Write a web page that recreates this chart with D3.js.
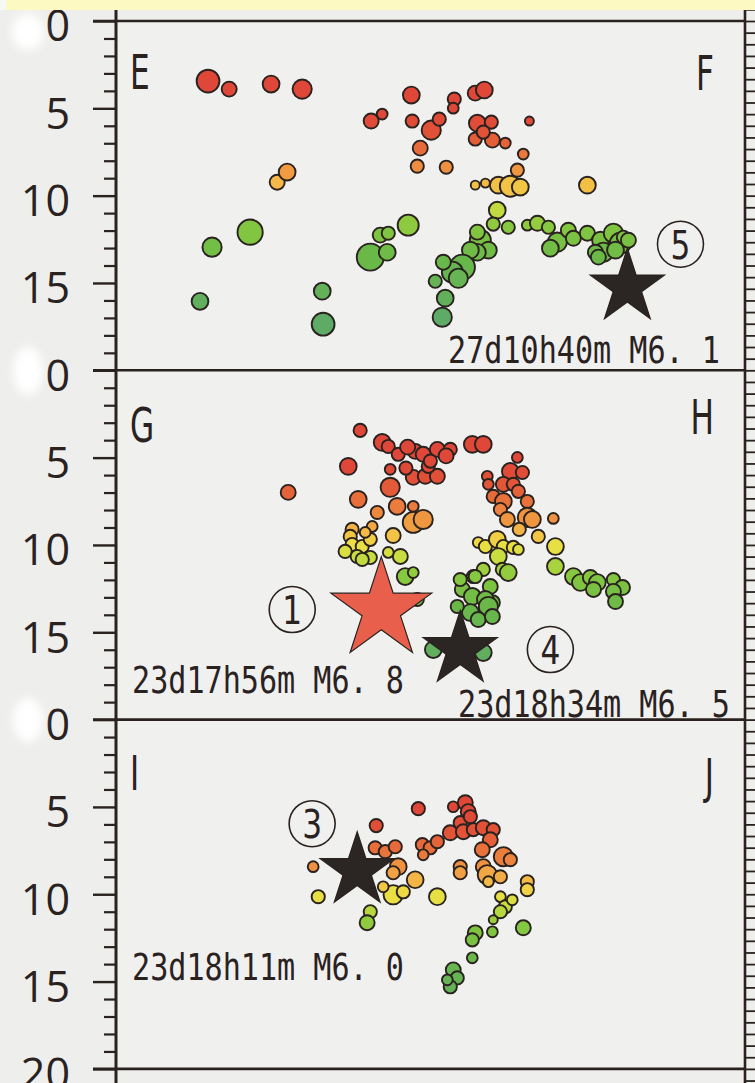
<!DOCTYPE html>
<html>
<head>
<meta charset="utf-8">
<script src="https://cdn.jsdelivr.net/npm/d3@7"></script>
<style>
  body { margin: 0; background: #eeeeec; }
  svg { display: block; }
</style>
</head>
<body>
<svg id="chart"></svg>
<script>
// Panel corner names, top to bottom
var panelNames = [["E", "F"], ["G", "H"], ["I", "J"]];
var depthTicks = [0, 5, 10, 15, 20];

// Aftershocks: [distance along section (km), depth (km), magnitude]
var quakesEF = [
  [5.27,3.44,3.3],[6.48,3.90,2.0],[8.88,3.61,2.3],[10.66,3.90,2.7],
  [9.23,9.23,2.0],[9.80,8.65,2.3],
  [7.68,12.09,3.7],[5.50,12.95,2.7],[4.81,16.05,2.3],[11.81,15.47,2.3],[11.86,17.36,3.3],
  [14.61,5.73,2.0],[15.24,5.33,1.3],[16.91,4.24,2.3],[16.96,5.73,1.7],[18.05,6.25,2.7],
  [18.51,5.62,1.7],[19.37,4.47,1.7],[19.31,4.99,1.3],[20.57,4.13,2.0],[21.09,3.95,2.3],
  [20.69,5.85,2.3],[21.49,5.79,1.7],[20.57,6.76,1.7],[21.55,6.82,2.0],[22.29,6.99,1.3],
  [21.03,6.36,1.7],[23.67,5.73,1.0],
  [17.42,7.28,2.0],[17.25,8.31,1.7],[18.91,8.37,1.7],[23.32,7.62,1.3],[22.98,8.54,1.7],
  [20.57,9.40,1.0],[21.15,9.28,1.0],[21.89,9.40,2.3],[22.58,9.46,3.0],[23.15,9.51,2.3],[26.99,9.40,2.3],
  [21.83,10.83,2.3],[21.60,11.63,1.7],[22.46,11.81,1.7],
  [16.73,11.69,3.0],[15.13,12.26,2.0],[15.59,12.15,1.7],[14.56,13.52,4.0],[15.53,13.24,2.3],
  [20.86,12.55,3.0],[20.69,12.09,2.0],[21.32,13.12,2.3],[20.69,13.24,2.3],[20.29,13.12,2.3],
  [19.83,14.10,3.7],[19.26,14.38,3.0],[19.60,14.73,2.7],[18.74,13.81,2.0],[18.28,14.90,1.7],
  [18.85,15.87,2.3],[18.68,16.96,2.7],
  [23.55,11.69,1.3],[24.13,11.58,2.0],[24.76,11.81,1.7],[25.27,12.66,2.7],[24.87,13.01,2.3],
  [25.90,11.98,2.0],[26.19,12.44,2.0],[26.99,12.15,2.0],[27.74,12.55,2.3],[28.48,12.15,2.7],
  [28.88,12.72,3.0],[27.91,13.24,2.7],[27.45,13.24,2.0],[29.05,12.38,1.7],[27.62,13.52,2.0],
  [28.60,13.12,2.3],[29.34,12.55,2.0]
];

var quakesGH = [
  [13.98,3.44,1.7],[13.30,5.50,2.3],[9.86,6.99,2.0],[13.87,7.39,2.3],
  [15.24,4.13,2.3],[15.59,4.36,1.7],[16.16,4.81,1.7],[15.70,5.67,1.3],[17.13,4.64,2.0],
  [17.59,4.81,2.0],[18.40,4.53,2.0],[19.14,4.53,1.7],[17.02,6.13,2.0],[17.71,6.07,2.0],
  [18.40,6.07,2.0],[17.88,5.50,1.7],[20.40,4.24,2.3],[21.03,4.24,2.3],
  [16.70,4.40,2.0],[18.90,4.90,2.0],[18.00,5.20,1.7],[16.60,5.60,1.7],
  [15.70,6.70,2.7],[16.10,7.79,2.3],[17.02,7.79,1.3],[14.96,8.14,1.7],[17.02,8.71,3.0],
  [17.59,8.54,2.7],[14.67,8.94,1.3],[15.87,9.46,2.0],
  [13.52,9.11,1.7],[13.41,9.51,1.7],[13.52,9.97,1.7],[14.10,10.09,1.7],[14.56,9.68,1.7],
  [14.27,9.28,1.3],[13.12,10.37,1.7],[13.81,10.66,1.7],[14.56,10.72,1.7],[14.10,10.83,1.7],
  [16.28,10.66,2.0],[15.59,10.43,1.3],[16.56,11.81,2.3],[17.02,11.58,1.3],[17.25,13.12,1.7],
  [22.98,4.99,1.3],[22.58,5.79,2.3],[23.27,5.85,1.7],[21.26,6.07,1.3],[21.32,6.53,1.3],
  [22.18,6.53,2.0],[22.75,6.53,1.7],[23.04,6.93,1.7],[21.60,7.22,1.7],[22.18,7.51,2.3],
  [23.55,7.51,1.7],[22.01,7.97,1.7],[22.41,8.54,2.0],[23.55,8.42,2.7],[23.84,8.54,2.3],
  [23.09,9.11,1.7],[25.04,8.48,1.3],[24.18,9.51,1.7],[25.16,10.09,2.3],
  [20.74,9.86,1.3],[21.15,10.09,1.7],[21.83,9.68,2.3],[22.18,10.09,1.7],[22.75,10.14,1.7],
  [23.04,10.26,1.3],[21.89,10.66,2.3],
  [21.03,11.40,1.7],[22.12,11.40,1.7],[22.46,11.58,2.3],[21.43,12.38,2.0],[20.46,11.81,1.7],
  [20.46,12.95,2.0],[21.55,13.30,2.0],
  [25.16,11.23,2.3],[26.19,11.81,2.3],[26.59,12.15,2.3],[27.16,11.86,2.0],[27.56,12.15,2.3],
  [27.34,12.55,2.0],[28.48,11.98,1.7],[29.00,12.44,2.0],[28.48,12.66,2.0],[28.60,13.24,2.0],
  [18.17,15.99,2.3],[21.03,16.16,2.3],[19.83,12.55,2.0],[20.40,12.95,2.3],[21.15,13.12,2.3],
  [21.32,13.52,2.7],[20.29,13.87,2.3],[20.74,14.27,2.0],[21.55,14.10,2.0],[19.54,13.52,1.7],
  [19.71,11.98,1.7],[20.57,11.81,1.7]
];

var quakesIJ = [
  [11.29,8.42,1.3],[11.58,10.14,1.7],[14.90,6.07,1.7],[17.31,5.10,1.7],
  [14.84,7.34,1.7],[15.42,7.56,1.7],[15.99,7.28,1.7],[16.16,8.42,2.3],[15.87,8.77,1.7],
  [17.13,9.17,2.3],[15.87,10.03,2.7],[16.45,9.86,1.7],[15.30,9.57,1.3],[18.40,10.14,2.3],
  [14.56,11.00,1.7],[14.38,11.63,2.0],
  [17.54,7.16,1.7],[17.99,7.34,1.7],[18.40,6.99,1.7],[17.59,7.74,1.3],[19.14,6.48,2.0],
  [19.31,4.99,1.3],[20.00,4.76,2.0],[20.17,5.27,2.0],[19.71,5.90,1.7],[20.29,5.56,1.7],
  [19.89,6.42,2.0],[20.46,6.30,1.7],[21.03,6.19,2.0],[21.60,6.30,1.7],[21.43,6.88,2.0],
  [20.97,7.45,2.0],[22.18,7.85,2.7],[22.58,8.02,1.7],
  [19.71,8.42,1.7],[19.71,8.77,1.7],[21.03,8.42,2.0],[21.26,8.88,2.7],[22.01,9.00,1.7],
  [21.32,9.28,1.3],[23.55,9.28,1.7],[23.55,9.74,1.7],
  [22.01,10.14,1.3],[22.29,10.72,1.7],[22.01,11.00,1.7],[22.69,10.32,1.3],
  [21.60,11.46,1.0],[21.55,12.15,1.3],[20.57,12.21,2.0],[20.40,12.61,1.7],[23.32,11.92,2.0],
  [20.40,13.64,1.3],[19.31,14.33,2.0],[19.54,14.79,1.7],[19.14,15.30,1.7],[18.97,14.90,1.3]
];

// Large events: [distance, depth, magnitude, number, label distance, label depth, main shock]
var shocksEF = [[29.28, 15.24, 6.1, "5", 32.32, 12.78, false]];
var shocksGH = [[15.19, 13.70, 6.8, "1", 10.09, 13.70, true],
                [19.71, 15.99, 6.5, "4", 24.87, 15.99, false]];
var shocksIJ = [[13.81, 8.65, 6.0, "3", 11.23, 5.96, false]];

// Event captions for each panel
var notesEF = ["27d10h40m M6. 1"];
var notesGH = ["23d17h56m M6. 8", "23d18h34m M6. 5"];
var notesIJ = ["23d18h11m M6. 0"];

var width = 755, height = 1083;
var left = 116, right = 745, top0 = 21, panelH = 349.3;
var ink = "#29221f";

var svg = d3.select("#chart")
    .attr("width", width)
    .attr("height", height);

var defs = svg.append("defs");
defs.append("filter").attr("id", "blob")
    .attr("x", "-50%").attr("y", "-50%").attr("width", "200%").attr("height", "200%")
  .append("feGaussianBlur").attr("stdDeviation", 4);

svg.append("rect")
    .attr("width", width).attr("height", height)
    .attr("fill", "#eeeeec");

var x = d3.scaleLinear()
    .domain([0, 36])
    .range([left, left + 36 * panelH / 20]);

var color = d3.scaleLinear()
    .domain([5.5, 6.5, 7.5, 8.5, 9.3, 10.0, 10.8, 11.8, 13.5, 17])
    .range(["#df4838", "#e25437", "#e9723b", "#ef9441", "#f4bb46",
            "#ece044", "#c2db3f", "#86c83f", "#6ab948", "#5eab66"])
    .clamp(true);

var radius = d3.scaleLinear().domain([1, 4]).range([4.5, 13.5]);

var starRadius = function(main) { return main ? 53 : 39; };

var panels = [
  { names: panelNames[0], quakes: quakesEF, shocks: shocksEF, notes: notesEF,
    noteLayout: [{ x: 720, y: 342, anchor: "end" }],
    nameY: [68, 69] },
  { names: panelNames[1], quakes: quakesGH, shocks: shocksGH, notes: notesGH,
    noteLayout: [{ x: 132, y: 323, anchor: "start" }, { x: 730, y: 347, anchor: "end" }],
    nameY: [72, 64] },
  { names: panelNames[2], quakes: quakesIJ, shocks: shocksIJ, notes: notesIJ,
    noteLayout: [{ x: 132, y: 260, anchor: "start" }],
    nameY: [70, 73] }
];

panels.forEach(function(p, i) {
  var top = top0 + i * panelH;
  var y = d3.scaleLinear().domain([0, 20]).range([top, top + panelH]);
  var last = i === panels.length - 1;
  var g = svg.append("g");

  g.append("rect")
      .attr("x", left).attr("y", top)
      .attr("width", right - left).attr("height", panelH)
      .attr("fill", "#f0f0ef");

  // aftershock circles
  g.selectAll(".quake")
      .data(p.quakes)
    .enter().append("circle")
      .attr("class", "quake")
      .attr("cx", function(d) { return x(d[0]); })
      .attr("cy", function(d) { return y(d[1]); })
      .attr("r", function(d) { return radius(d[2]); })
      .attr("fill", function(d) { return color(d[1]); })
      .attr("stroke", ink)
      .attr("stroke-width", 1.9);

  // large events as stars
  g.selectAll(".shock")
      .data(p.shocks)
    .enter().append("path")
      .attr("class", "shock")
      .attr("transform", function(d) { return "translate(" + x(d[0]) + "," + y(d[1]) + ")"; })
      .attr("d", function(d) {
        var r = starRadius(d[6]);
        return d3.symbol(d3.symbolStar, r * r / 0.8908130915292852)();
      })
      .attr("fill", function(d) { return d[6] ? "#e8604c" : "#2b2523"; })
      .attr("stroke", ink)
      .attr("stroke-width", 1.2);

  // circled event numbers
  var lab = g.selectAll(".num")
      .data(p.shocks)
    .enter().append("g")
      .attr("class", "num")
      .attr("transform", function(d) { return "translate(" + x(d[4]) + "," + y(d[5]) + ")"; });
  lab.append("circle")
      .attr("r", 23)
      .attr("fill", "none")
      .attr("stroke", ink)
      .attr("stroke-width", 1.6);
  lab.append("text")
      .attr("transform", "scale(0.8,1)")
      .attr("text-anchor", "middle")
      .attr("dy", "0.37em")
      .style("font-family", "'DejaVu Sans', sans-serif")
      .style("font-size", "39px")
      .attr("fill", ink)
      .text(function(d) { return d[3]; });

  // corner letters
  g.append("text")
      .attr("transform", "translate(" + (left + 14) + "," + (top + p.nameY[0]) + ") scale(0.65,1)")
      .style("font-family", "'DejaVu Sans', sans-serif")
      .style("font-size", "48px")
      .attr("fill", ink)
      .text(p.names[0]);
  g.append("text")
      .attr("transform", "translate(" + (right - 31) + "," + (top + p.nameY[1]) + ") scale(0.65,1)")
      .attr("text-anchor", "end")
      .style("font-family", "'DejaVu Sans', sans-serif")
      .style("font-size", "48px")
      .attr("fill", ink)
      .text(p.names[1]);

  // captions
  g.selectAll(".note")
      .data(p.notes)
    .enter().append("text")
      .attr("class", "note")
      .attr("x", function(d, j) { return p.noteLayout[j].x; })
      .attr("y", function(d, j) { return top + p.noteLayout[j].y; })
      .attr("text-anchor", function(d, j) { return p.noteLayout[j].anchor; })
      .attr("textLength", 272)
      .attr("lengthAdjust", "spacingAndGlyphs")
      .style("font-family", "'DejaVu Sans Mono', monospace")
      .style("font-size", "38px")
      .attr("fill", ink)
      .text(function(d) { return d; });

  // depth axis; "20" is written only below the last panel
  var minor = d3.range(0, 21).filter(function(v) { return v % 5 !== 0; });
  var minorAxis = svg.append("g")
      .attr("transform", "translate(" + left + ",0)")
      .call(d3.axisLeft(y).tickValues(minor).tickSize(12).tickSizeOuter(0).tickFormat(""));
  minorAxis.select(".domain").remove();
  minorAxis.selectAll("line").attr("stroke", ink).attr("stroke-width", 2.2);

  var majorAxis = svg.append("g")
      .attr("transform", "translate(" + left + ",0)")
      .call(d3.axisLeft(y)
        .tickValues(last ? depthTicks : depthTicks.slice(0, 4))
        .tickSize(23).tickSizeOuter(0).tickPadding(23));
  majorAxis.select(".domain").remove();
  majorAxis.selectAll("line").attr("stroke", ink).attr("stroke-width", 2.4);
  majorAxis.selectAll("text")
      .attr("dy", "0.46em")
      .style("font-family", "'Open Sans', sans-serif")
      .style("font-size", "43px")
      .attr("fill", ink);

  // panel top border
  svg.append("line")
      .attr("x1", 93).attr("x2", right)
      .attr("y1", top).attr("y2", top)
      .attr("stroke", ink).attr("stroke-width", 2.6);
});

// bottom border
svg.append("line")
    .attr("x1", 93).attr("x2", right)
    .attr("y1", top0 + 3 * panelH).attr("y2", top0 + 3 * panelH)
    .attr("stroke", ink).attr("stroke-width", 2.6);

// left and right frame lines
svg.append("line")
    .attr("x1", left).attr("x2", left).attr("y1", 10).attr("y2", height)
    .attr("stroke", ink).attr("stroke-width", 3);
svg.append("line")
    .attr("x1", right).attr("x2", right).attr("y1", 10).attr("y2", height)
    .attr("stroke", ink).attr("stroke-width", 2.6);

// fine ticks on the right edge
var yRight = d3.scaleLinear().domain([0, 90]).range([top0, top0 + 3 * panelH]);
var rightAxis = svg.append("g")
    .attr("transform", "translate(" + (right + 1) + ",0)")
    .call(d3.axisRight(yRight).tickValues(d3.range(-1, 92)).tickSize(10).tickSizeOuter(0).tickFormat(""));
rightAxis.select(".domain").remove();
rightAxis.selectAll("line").attr("stroke", ink).attr("stroke-width", 1.8);

// scan blotches at the left edge
var blobs = [[28, 32, 16, 18], [28, 371, 15, 24], [28, 720, 15, 22]];
svg.selectAll(".blob")
    .data(blobs)
  .enter().append("ellipse")
    .attr("class", "blob")
    .attr("cx", function(d) { return d[0]; })
    .attr("cy", function(d) { return d[1]; })
    .attr("rx", function(d) { return d[2]; })
    .attr("ry", function(d) { return d[3]; })
    .attr("fill", "#ffffff")
    .attr("filter", "url(#blob)");

// yellow band on top
svg.append("rect")
    .attr("x", 0).attr("y", 0).attr("width", 6).attr("height", 10)
    .attr("fill", "#f8f8f4");
svg.append("rect")
    .attr("x", 6).attr("y", 0).attr("width", width - 6).attr("height", 10)
    .attr("fill", "#fdf9c2");
</script>
</body>
</html>
